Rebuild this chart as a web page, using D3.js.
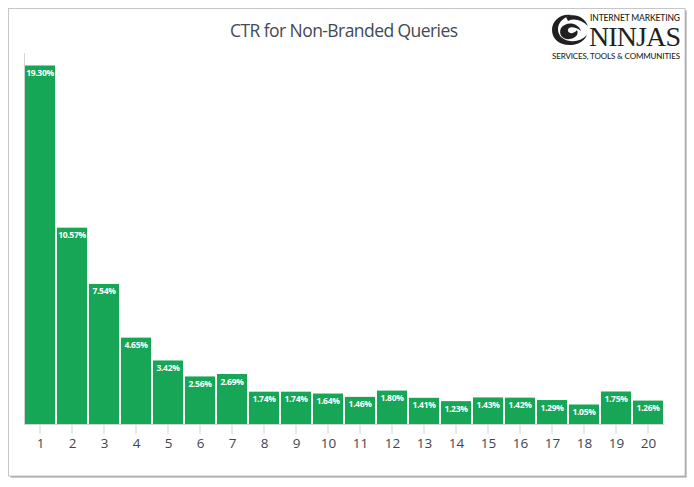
<!DOCTYPE html>
<meta charset="utf-8">
<head>
<style>
  html, body { margin: 0; padding: 0; background: #fff; }
  svg { display: block; }
  .axis path, .axis line { fill: none; stroke: #d4d4d4; }
  .axis text { font: 13.5px "Open Sans", sans-serif; fill: #3d4650; }
</style>
</head>
<body>
<script src="https://cdnjs.cloudflare.com/ajax/libs/d3/7.8.5/d3.min.js"></script>
<script>

const positions = d3.range(1, 21);
const ctr = [19.30, 10.57, 7.54, 4.65, 3.42, 2.56, 2.69, 1.74, 1.74, 1.64,
             1.46, 1.80, 1.41, 1.23, 1.43, 1.42, 1.29, 1.05, 1.75, 1.26];
const title = "CTR for Non-Branded Queries";

const width = 694, height = 487;
const plot = {left: 24, right: 664, top: 52.5, bottom: 424};

const svg = d3.select("body").append("svg")
  .attr("width", width)
  .attr("height", height);

// card with a soft shadow on the right and bottom
svg.append("rect")
  .attr("x", 10.5).attr("y", 10.5).attr("width", 676).attr("height", 467)
  .attr("fill", "#999");
svg.append("rect")
  .attr("x", 8.5).attr("y", 8.5).attr("width", 676.5).attr("height", 467.5)
  .attr("fill", "#fff").attr("stroke", "#c6c6c6");

const x = d3.scaleBand()
  .domain(positions)
  .range([plot.left, plot.right])
  .paddingInner(0.06)
  .paddingOuter(0.03);
const y = d3.scaleLinear().domain([0, 20]).range([plot.bottom, plot.top]);

svg.append("g")
  .attr("class", "axis")
  .attr("transform", "translate(0," + plot.bottom + ")")
  .call(d3.axisBottom(x).tickSize(10).tickSizeOuter(0).tickPadding(3))
  .selectAll("text").attr("dy", "0.85em").attr("dx", "0.5");

svg.append("g")
  .attr("class", "axis")
  .attr("transform", "translate(" + plot.left + ",0)")
  .call(d3.axisLeft(y).tickValues([]).tickSizeOuter(0));

svg.append("g").selectAll("rect")
  .data(ctr)
  .join("rect")
    .attr("x", (d, i) => x(positions[i]))
    .attr("y", d => y(d))
    .attr("width", x.bandwidth())
    .attr("height", d => y(0) - y(d))
    .attr("fill", "#17a556");

svg.append("g").selectAll("text")
  .data(ctr)
  .join("text")
    .attr("x", (d, i) => x(positions[i]) + x.bandwidth() / 2)
    .attr("y", d => y(d) + 10.5)
    .attr("text-anchor", "middle")
    .style("font", "bold 8.5px 'Open Sans', sans-serif")
    .style("letter-spacing", "-0.3px")
    .attr("fill", "#fff")
    .text(d => d.toFixed(2) + "%");

svg.append("text")
  .attr("x", 230).attr("y", 36.5)
  .attr("textLength", 228)
  .style("font", "500 17.5px 'Open Sans', sans-serif")
  .attr("fill", "#3f4a54")
  .text(title);

// logo
const logo = svg.append("g").attr("fill", "#231f20");
logo.append("path")
  .attr("d", "M572 15 C560 13 552 21 552 30 C552 40 561 46 572 45 C580 44 585 40 587 35 C582 40 576 42 570 41 C562 40 558 35 558 29 C558 22 564 17 572 15Z");
logo.append("path")
  .attr("d", "M566 17 C574 13 584 16 588 26 C582 20 574 18 568 21Z");
logo.append("path")
  .attr("d", "M581 31 C578 22 566 21 561 28 C558 35 563 40 570 39 C576 38 579 34 577 30 C574 34 569 34 568 31 C567 27 574 25 581 31Z");
logo.append("text").attr("x", 590).attr("y", 21)
  .attr("textLength", 90)
  .style("font", "500 8.5px Lato, sans-serif")
  .text("INTERNET MARKETING");
logo.append("text").attr("x", 589).attr("y", 46)
  .attr("textLength", 92)
  .style("font", "28px 'Liberation Serif', serif")
  .text("NINJAS");
logo.append("text").attr("x", 552).attr("y", 59)
  .attr("textLength", 128)
  .style("font", "500 8px Lato, sans-serif")
  .text("SERVICES, TOOLS & COMMUNITIES");

</script>
</body>
